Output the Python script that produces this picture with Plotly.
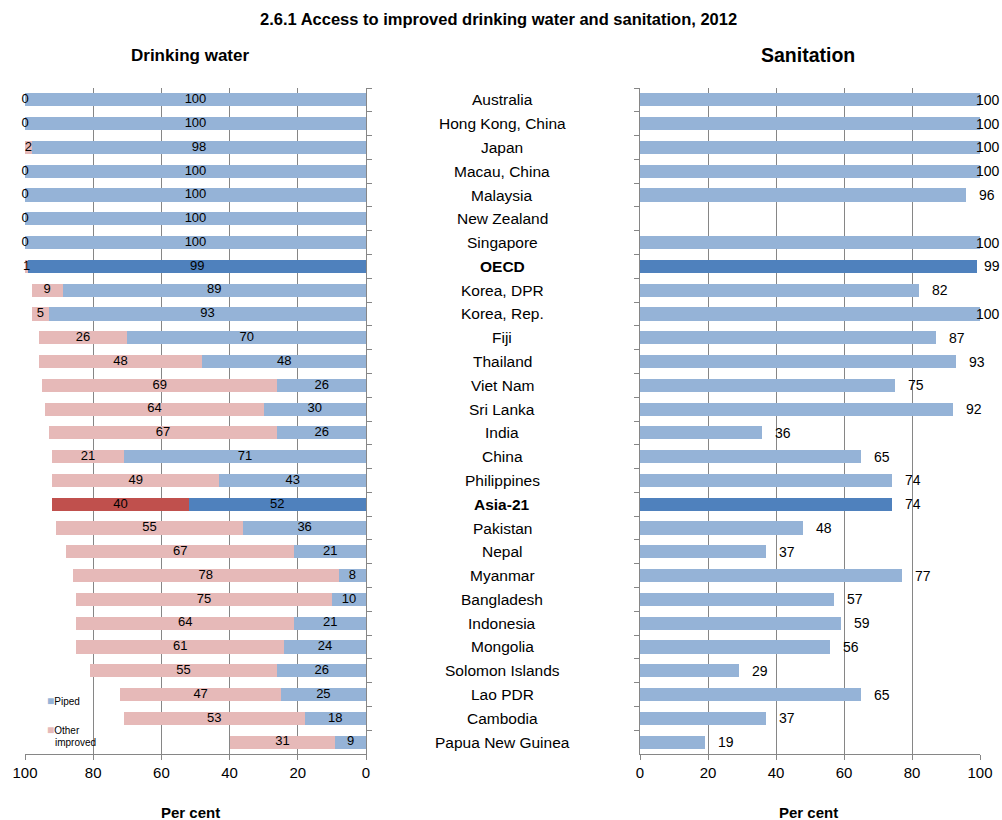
import plotly.graph_objects as go

# ---- data -------------------------------------------------------------
countries = [
    "Australia", "Hong Kong, China", "Japan", "Macau, China", "Malaysia",
    "New Zealand", "Singapore", "OECD", "Korea, DPR", "Korea, Rep.", "Fiji",
    "Thailand", "Viet Nam", "Sri Lanka", "India", "China", "Philippines",
    "Asia-21", "Pakistan", "Nepal", "Myanmar", "Bangladesh", "Indonesia",
    "Mongolia", "Solomon Islands", "Lao PDR", "Cambodia", "Papua New Guinea",
]
water_piped = [100, 100, 98, 100, 100, 100, 100, 99, 89, 93, 70, 48, 26, 30,
               26, 71, 43, 52, 36, 21, 8, 10, 21, 24, 26, 25, 18, 9]
water_other = [0, 0, 2, 0, 0, 0, 0, 1, 9, 5, 26, 48, 69, 64,
               67, 21, 49, 40, 55, 67, 78, 75, 64, 61, 55, 47, 53, 31]
sanitation = [100, 100, 100, 100, 96, None, 100, 99, 82, 100, 87, 93, 75, 92,
              36, 65, 74, 74, 48, 37, 77, 57, 59, 56, 29, 65, 37, 19]
aggregates = ["OECD", "Asia-21"]
x_ticks = [0, 20, 40, 60, 80, 100]

# ---- styling ----------------------------------------------------------
FONT = "Liberation Sans, Arial, sans-serif"
BLUE, BLUE_DARK = "#95B3D7", "#4F81BD"
PINK, RED_DARK = "#E6B9B8", "#C0504D"
GRID = "#868686"
W, H = 1002, 820


def px(x):
    return x / W


def py(y):
    return 1 - y / H


piped_colors = [BLUE_DARK if c in aggregates else BLUE for c in countries]
other_colors = [RED_DARK if c == "Asia-21" else PINK for c in countries]
san_colors = [BLUE_DARK if c in aggregates else BLUE for c in countries]

fig = go.Figure()

# Drinking water: piped + other improved, stacked from the right-hand zero
fig.add_trace(go.Bar(
    y=countries, x=water_piped, orientation="h", name="Piped",
    marker=dict(color=piped_colors, line=dict(width=0)),
    xaxis="x", yaxis="y", showlegend=False, hoverinfo="x+y",
))
fig.add_trace(go.Bar(
    y=countries, x=water_other, orientation="h", name="Other improved",
    marker=dict(color=other_colors, line=dict(width=0)),
    xaxis="x", yaxis="y", showlegend=False, hoverinfo="x+y",
))

# value labels centred in each segment
fig.add_trace(go.Scatter(
    y=countries, x=[p / 2 for p in water_piped], mode="text",
    text=[str(v) for v in water_piped], textposition="middle center",
    textfont=dict(family=FONT, size=13, color="#000"),
    xaxis="x", yaxis="y", showlegend=False, hoverinfo="skip", cliponaxis=False,
))
fig.add_trace(go.Scatter(
    y=countries, x=[p + o / 2 for p, o in zip(water_piped, water_other)],
    mode="text", text=[str(v) for v in water_other],
    textposition="middle center",
    textfont=dict(family=FONT, size=13, color="#000"),
    xaxis="x", yaxis="y", showlegend=False, hoverinfo="skip", cliponaxis=False,
))

# Sanitation
fig.add_trace(go.Bar(
    y=countries, x=sanitation, orientation="h", name="Sanitation",
    marker=dict(color=san_colors, line=dict(width=0)),
    xaxis="x2", yaxis="y2", showlegend=False, hoverinfo="x+y",
))

annotations = []

# sanitation value labels just past the bar end, kept inside the page
for c, v in zip(countries, sanitation):
    if v is None:
        continue
    if v >= 97:
        annotations.append(dict(x=100, y=c, xref="x2", yref="y2", text=str(v),
                                showarrow=False, xanchor="right", xshift=22,
                                font=dict(family=FONT, size=14, color="#000")))
    else:
        annotations.append(dict(x=v, y=c, xref="x2", yref="y2", text=str(v),
                                showarrow=False, xanchor="left", xshift=11,
                                font=dict(family=FONT, size=14, color="#000")))

# country names between the two panels
for c in countries:
    label = f"<b>{c}</b>" if c in aggregates else c
    annotations.append(dict(x=px(502), y=c, xref="paper", yref="y", text=label,
                            showarrow=False, xanchor="center", yanchor="middle",
                            font=dict(family=FONT, size=15.5, color="#000")))


def page_text(x, y, text, size, xanchor="center"):
    return dict(x=px(x), y=py(y), xref="paper", yref="paper", showarrow=False,
                xanchor=xanchor, yanchor="middle", text=text, align="left",
                font=dict(family=FONT, size=size, color="#000"))


# titles
annotations += [
    page_text(498, 19, "<b>2.6.1 Access to improved drinking water and sanitation, 2012</b>", 16.5),
    page_text(190, 55, "<b>Drinking water</b>", 17),
    page_text(808, 55, "<b>Sanitation</b>", 19.5),
    page_text(190, 812, "<b>Per cent</b>", 15),
    page_text(808, 812, "<b>Per cent</b>", 15),
]

# legend for the drinking-water panel
annotations += [
    page_text(45, 701, f"<span style='color:{BLUE};font-size:12px'>■</span>Piped", 10, "left"),
    page_text(45, 730, f"<span style='color:{PINK};font-size:12px'>■</span>Other", 10, "left"),
    page_text(53, 742, "improved", 10, "left"),
]

y_dom = [py(754), py(88)]
y_range = [len(countries) - 0.5, -0.5]
axis_common = dict(
    tickvals=x_ticks, ticks="outside", ticklen=5, tickcolor=GRID,
    showgrid=True, gridcolor=GRID, gridwidth=1, zeroline=False,
    showline=True, linecolor=GRID, linewidth=1,
    tickfont=dict(family=FONT, size=15, color="#000"),
)
cat_axis = dict(
    domain=y_dom, range=y_range, showticklabels=False, ticks="outside",
    ticklen=5, tickcolor=GRID, tickson="boundaries", showline=True,
    linecolor=GRID, linewidth=1, showgrid=False,
)

fig.update_layout(
    width=W, height=H,
    margin=dict(l=0, r=0, t=0, b=0, autoexpand=False),
    paper_bgcolor="white", plot_bgcolor="white",
    barmode="stack", bargap=0.45,
    showlegend=False,
    xaxis=dict(axis_common, domain=[px(25), px(366)], range=[100, 0],
               anchor="y"),
    yaxis=dict(cat_axis, side="right", anchor="x"),
    xaxis2=dict(axis_common, domain=[px(640), px(980)], range=[0, 100],
                anchor="y2"),
    yaxis2=dict(cat_axis, side="left", anchor="x2"),
    annotations=annotations,
)

# page without body margin so the fixed-size figure fits the window exactly
fig.write_html(
    "out.html",
    post_script="document.body.style.margin='0';"
                "document.documentElement.style.overflow='hidden';",
)
